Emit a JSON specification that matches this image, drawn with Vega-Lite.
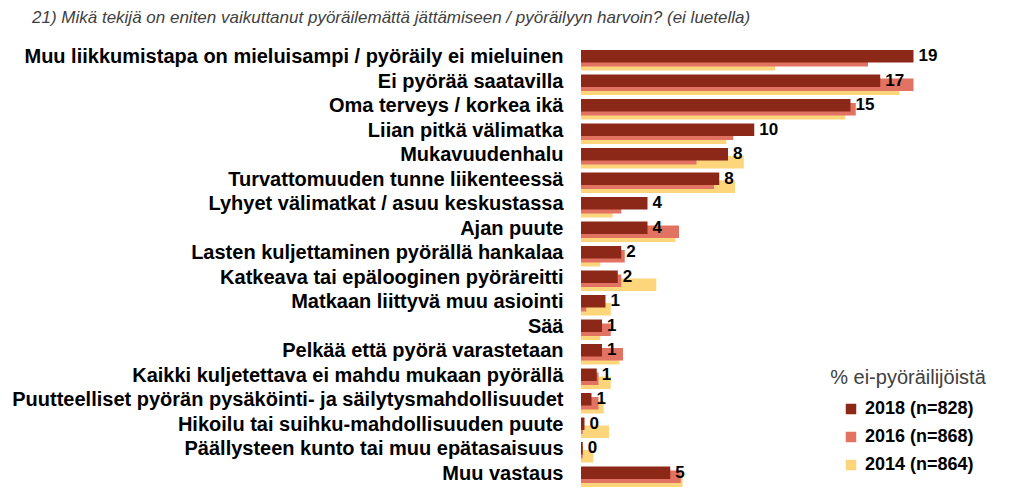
{
  "$schema": "https://vega.github.io/schema/vega-lite/v6.json",
  "autosize": "none",
  "width": 350,
  "height": 441,
  "padding": {"left": 581, "top": 48, "right": 93, "bottom": 14},
  "background": "white",
  "title": {
    "text": "21) Mikä tekijä on eniten vaikuttanut pyöräilemättä jättämiseen / pyöräilyyn harvoin? (ei luetella)",
    "anchor": "start",
    "frame": "group",
    "dx": -549,
    "offset": 20,
    "font": "Liberation Sans",
    "fontSize": 17,
    "fontStyle": "italic",
    "fontWeight": "normal",
    "color": "#404040"
  },
  "config": {
    "view": {"stroke": null},
    "font": "Liberation Sans"
  },
  "data": {
    "values": [
      {"kategoria": "Muu liikkumistapa on mieluisampi / pyöräily ei mieluinen", "vuosi": "2014 (n=864)", "arvo": 11.1},
      {"kategoria": "Ei pyörää saatavilla", "vuosi": "2014 (n=864)", "arvo": 18.2},
      {"kategoria": "Oma terveys / korkea ikä", "vuosi": "2014 (n=864)", "arvo": 15.1},
      {"kategoria": "Liian pitkä välimatka", "vuosi": "2014 (n=864)", "arvo": 8.3},
      {"kategoria": "Mukavuudenhalu", "vuosi": "2014 (n=864)", "arvo": 9.3},
      {"kategoria": "Turvattomuuden tunne liikenteessä", "vuosi": "2014 (n=864)", "arvo": 8.8},
      {"kategoria": "Lyhyet välimatkat / asuu keskustassa", "vuosi": "2014 (n=864)", "arvo": 1.8},
      {"kategoria": "Ajan puute", "vuosi": "2014 (n=864)", "arvo": 5.4},
      {"kategoria": "Lasten kuljettaminen pyörällä hankalaa", "vuosi": "2014 (n=864)", "arvo": 1.1},
      {"kategoria": "Katkeava tai epälooginen pyöräreitti", "vuosi": "2014 (n=864)", "arvo": 4.3},
      {"kategoria": "Matkaan liittyvä muu asiointi", "vuosi": "2014 (n=864)", "arvo": 1.7},
      {"kategoria": "Sää", "vuosi": "2014 (n=864)", "arvo": 1.1},
      {"kategoria": "Pelkää että pyörä varastetaan", "vuosi": "2014 (n=864)", "arvo": 2.2},
      {"kategoria": "Kaikki kuljetettava ei mahdu mukaan pyörällä", "vuosi": "2014 (n=864)", "arvo": 1.7},
      {"kategoria": "Puutteelliset pyörän pysäköinti- ja säilytysmahdollisuudet", "vuosi": "2014 (n=864)", "arvo": 1.3},
      {"kategoria": "Hikoilu tai suihku-mahdollisuuden puute", "vuosi": "2014 (n=864)", "arvo": 1.6},
      {"kategoria": "Päällysteen kunto tai muu epätasaisuus", "vuosi": "2014 (n=864)", "arvo": 0.7},
      {"kategoria": "Muu vastaus", "vuosi": "2014 (n=864)", "arvo": 5.8},

      {"kategoria": "Muu liikkumistapa on mieluisampi / pyöräily ei mieluinen", "vuosi": "2016 (n=868)", "arvo": 16.4},
      {"kategoria": "Ei pyörää saatavilla", "vuosi": "2016 (n=868)", "arvo": 19.0},
      {"kategoria": "Oma terveys / korkea ikä", "vuosi": "2016 (n=868)", "arvo": 15.7},
      {"kategoria": "Liian pitkä välimatka", "vuosi": "2016 (n=868)", "arvo": 8.7},
      {"kategoria": "Mukavuudenhalu", "vuosi": "2016 (n=868)", "arvo": 6.6},
      {"kategoria": "Turvattomuuden tunne liikenteessä", "vuosi": "2016 (n=868)", "arvo": 7.6},
      {"kategoria": "Lyhyet välimatkat / asuu keskustassa", "vuosi": "2016 (n=868)", "arvo": 2.3},
      {"kategoria": "Ajan puute", "vuosi": "2016 (n=868)", "arvo": 5.6},
      {"kategoria": "Lasten kuljettaminen pyörällä hankalaa", "vuosi": "2016 (n=868)", "arvo": 2.5},
      {"kategoria": "Katkeava tai epälooginen pyöräreitti", "vuosi": "2016 (n=868)", "arvo": 2.3},
      {"kategoria": "Matkaan liittyvä muu asiointi", "vuosi": "2016 (n=868)", "arvo": 0.3},
      {"kategoria": "Sää", "vuosi": "2016 (n=868)", "arvo": 1.7},
      {"kategoria": "Pelkää että pyörä varastetaan", "vuosi": "2016 (n=868)", "arvo": 2.4},
      {"kategoria": "Kaikki kuljetettava ei mahdu mukaan pyörällä", "vuosi": "2016 (n=868)", "arvo": 1.0},
      {"kategoria": "Puutteelliset pyörän pysäköinti- ja säilytysmahdollisuudet", "vuosi": "2016 (n=868)", "arvo": 1.0},
      {"kategoria": "Hikoilu tai suihku-mahdollisuuden puute", "vuosi": "2016 (n=868)", "arvo": 0.1},
      {"kategoria": "Päällysteen kunto tai muu epätasaisuus", "vuosi": "2016 (n=868)", "arvo": 0.1},
      {"kategoria": "Muu vastaus", "vuosi": "2016 (n=868)", "arvo": 5.7},

      {"kategoria": "Muu liikkumistapa on mieluisampi / pyöräily ei mieluinen", "vuosi": "2018 (n=828)", "arvo": 19.0},
      {"kategoria": "Ei pyörää saatavilla", "vuosi": "2018 (n=828)", "arvo": 17.1},
      {"kategoria": "Oma terveys / korkea ikä", "vuosi": "2018 (n=828)", "arvo": 15.4},
      {"kategoria": "Liian pitkä välimatka", "vuosi": "2018 (n=828)", "arvo": 9.9},
      {"kategoria": "Mukavuudenhalu", "vuosi": "2018 (n=828)", "arvo": 8.4},
      {"kategoria": "Turvattomuuden tunne liikenteessä", "vuosi": "2018 (n=828)", "arvo": 7.9},
      {"kategoria": "Lyhyet välimatkat / asuu keskustassa", "vuosi": "2018 (n=828)", "arvo": 3.8},
      {"kategoria": "Ajan puute", "vuosi": "2018 (n=828)", "arvo": 3.8},
      {"kategoria": "Lasten kuljettaminen pyörällä hankalaa", "vuosi": "2018 (n=828)", "arvo": 2.3},
      {"kategoria": "Katkeava tai epälooginen pyöräreitti", "vuosi": "2018 (n=828)", "arvo": 2.1},
      {"kategoria": "Matkaan liittyvä muu asiointi", "vuosi": "2018 (n=828)", "arvo": 1.4},
      {"kategoria": "Sää", "vuosi": "2018 (n=828)", "arvo": 1.2},
      {"kategoria": "Pelkää että pyörä varastetaan", "vuosi": "2018 (n=828)", "arvo": 1.2},
      {"kategoria": "Kaikki kuljetettava ei mahdu mukaan pyörällä", "vuosi": "2018 (n=828)", "arvo": 0.9},
      {"kategoria": "Puutteelliset pyörän pysäköinti- ja säilytysmahdollisuudet", "vuosi": "2018 (n=828)", "arvo": 0.6},
      {"kategoria": "Hikoilu tai suihku-mahdollisuuden puute", "vuosi": "2018 (n=828)", "arvo": 0.2},
      {"kategoria": "Päällysteen kunto tai muu epätasaisuus", "vuosi": "2018 (n=828)", "arvo": 0.1},
      {"kategoria": "Muu vastaus", "vuosi": "2018 (n=828)", "arvo": 5.1}
    ]
  },
  "encoding": {
    "y": {
      "field": "kategoria",
      "type": "nominal",
      "sort": null,
      "scale": {"paddingInner": 0, "paddingOuter": 0},
      "axis": {
        "title": null,
        "domain": false,
        "ticks": false,
        "labelFont": "Liberation Sans",
        "labelFontSize": 20,
        "labelFontWeight": "bold",
        "labelColor": "#000000",
        "labelPadding": 18,
        "labelOffset": -3,
        "labelLimit": 600
      }
    },
    "yOffset": {
      "field": "vuosi",
      "type": "nominal",
      "sort": ["2018 (n=828)", "2016 (n=868)", "2014 (n=864)"],
      "scale": {"range": [6.25, 18.25], "paddingInner": 0, "paddingOuter": 0}
    },
    "x": {
      "field": "arvo",
      "type": "quantitative",
      "scale": {"domain": [0, 20]},
      "axis": null
    }
  },
  "layer": [
    {
      "mark": {"type": "bar", "height": 12.5},
      "encoding": {
        "color": {
          "field": "vuosi",
          "type": "nominal",
          "sort": ["2018 (n=828)", "2016 (n=868)", "2014 (n=864)"],
          "scale": {
            "domain": ["2018 (n=828)", "2016 (n=868)", "2014 (n=864)"],
            "range": ["#8B2817", "#E27262", "#FDD57A"]
          },
          "legend": {
            "title": "% ei-pyöräilijöistä",
            "orient": "none",
            "legendX": 249,
            "legendY": 320,
            "titleFont": "Liberation Sans",
            "titleFontSize": 20,
            "titleFontWeight": "normal",
            "titleColor": "#404040",
            "titleAnchor": "middle",
            "titlePadding": 12,
            "labelFont": "Liberation Sans",
            "labelFontSize": 18,
            "labelFontWeight": "bold",
            "labelColor": "#000000",
            "symbolType": "square",
            "symbolSize": 110,
            "symbolStrokeWidth": 0,
            "rowPadding": 10,
            "labelOffset": 5
          }
        }
      }
    },
    {
      "transform": [{"filter": "datum.vuosi === '2018 (n=828)'"}],
      "mark": {
        "type": "text",
        "align": "left",
        "baseline": "middle",
        "dx": 5,
        "font": "Liberation Sans",
        "fontSize": 17,
        "fontWeight": "bold",
        "color": "#000000"
      },
      "encoding": {
        "text": {"field": "arvo", "type": "quantitative", "format": ".0f"}
      }
    }
  ]
}
